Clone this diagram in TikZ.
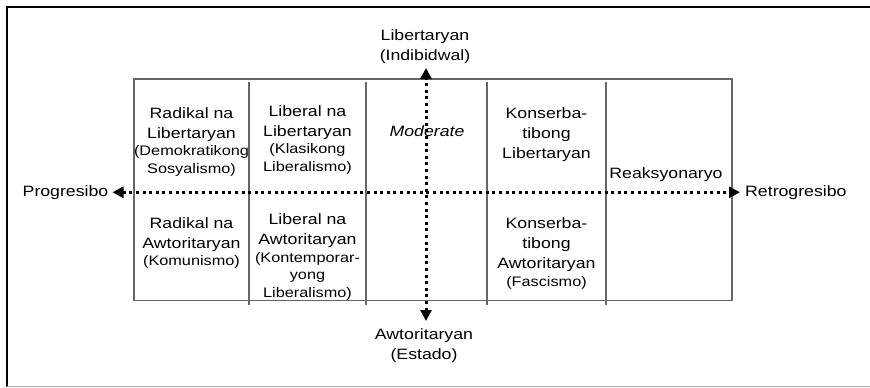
\documentclass[tikz,border=0pt]{standalone}
\usepackage{fontspec}
\setmainfont{Liberation Sans}[FakeStretch=1.18]
\usetikzlibrary{arrows.meta,positioning}
\newcommand{\sm}{\fontsize{13.8}{17}\selectfont}

\begin{document}
\begin{tikzpicture}[x=1pt,y=-1pt,
    cell/.style={anchor=north,inner sep=0pt,align=center,font=\fontsize{15}{20}\selectfont},
    axe/.style={line width=3pt,dash pattern=on 3pt off 3.6pt,
        {Triangle[length=11pt,width=11pt]}-{Triangle[length=11pt,width=11pt]}},
    gridline/.style={draw=black!60,line width=1.2pt}]
    \useasboundingbox (0,0) rectangle (870,388);
    % frame
    \draw[line width=2.5pt] (875,7) -- (7,7) -- (7,387);
    \draw[black!35,line width=1.2pt] (7,386.5) -- (875,386.5);
    % grid
    \draw[gridline] (134,79) rectangle (732,300.5);
    \foreach \x in {249,366,487,606}
        \draw[gridline] (\x,82) -- (\x,305);
    % cells
    \node[cell] (radlib) at (191.5,107.3) {Radikal na\\Libertaryan\\[-2.5pt]\sm(Demokratikong\\[-2.5pt]\sm Sosyalismo)};
    \node[cell] (radawt) at (191.5,217.3) {Radikal na\\Awtoritaryan\\[-2.5pt]\sm(Komunismo)};
    \node[cell] (liblib) at (307.5,105.3) {Liberal na\\Libertaryan\\[-2.5pt]\sm(Klasikong\\[-2.5pt]\sm Liberalismo)};
    \node[cell] (libawt) at (307.5,213.3) {Liberal na\\Awtoritaryan\\[-2pt]\sm(Kontemporar-\\[-2.5pt]\sm yong\\[-2.5pt]\sm Liberalismo)};
    \node[cell] (mod) at (427,125.3) {\itshape Moderate};
    \node[cell] (konlib) at (546.5,107.3) {Konserba-\\tibong\\Libertaryan};
    \node[cell] (konawt) at (546.5,217) {Konserba-\\tibong\\Awtoritaryan\\[-1.5pt]\sm(Fascismo)};
    \node[cell] (reak) at (666,167.5) {Reaksyonaryo};
    % axes
    \coordinate (W) at (112.5,192.3);
    \coordinate (E) at (740,192.3);
    \coordinate (N) at (426,68);
    \coordinate (S) at (426,321);
    \draw[axe] (W) -- (E);
    \draw[axe] (S) -- (N);
    \node[cell] (lib) at (425,29.3) {Libertaryan\\(Indibidwal)};
    \node[cell] (awt) at (424,328.5) {Awtoritaryan\\(Estado)};
    \node[cell,anchor=base east] (prog) at (108.5,196.7) {Progresibo};
    \node[cell,anchor=base west] (retro) at (745,196.7) {Retrogresibo};
\end{tikzpicture}
\end{document}
